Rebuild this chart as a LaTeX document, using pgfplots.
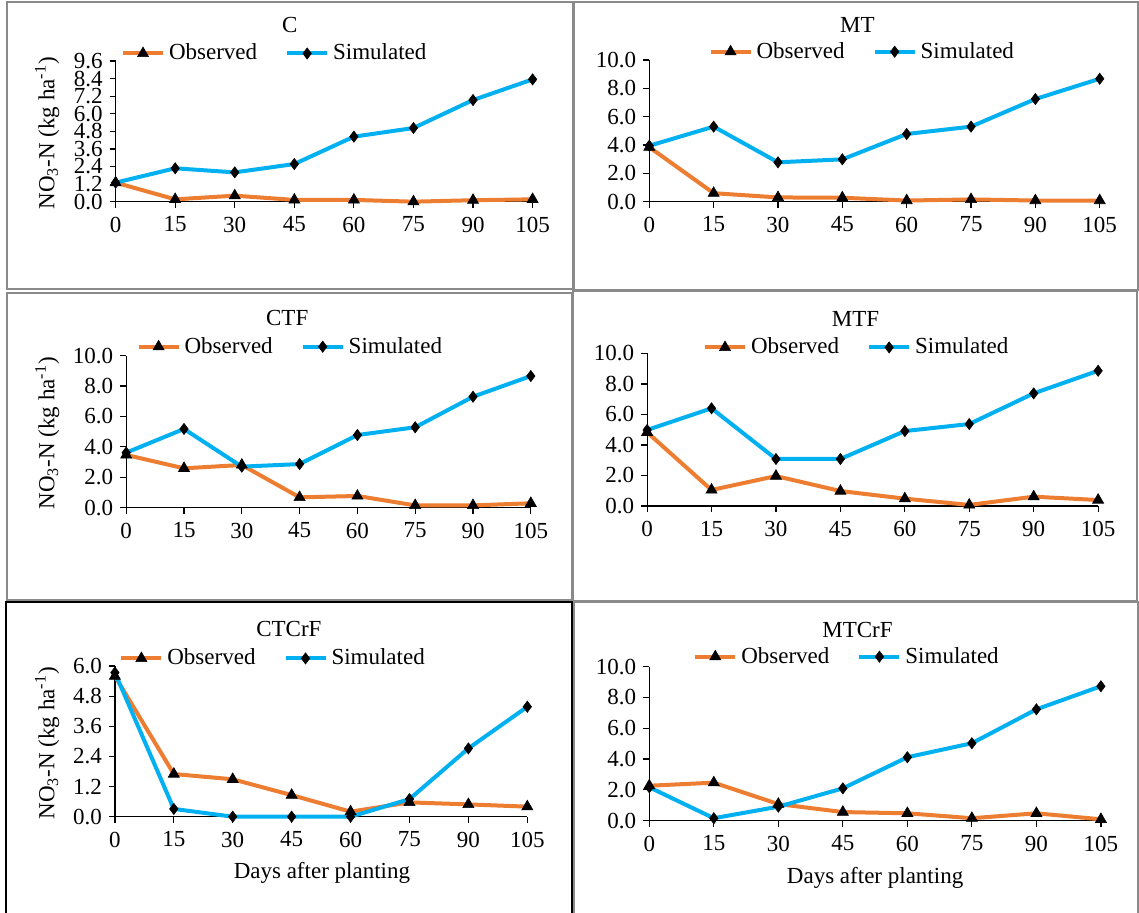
\documentclass[border=0pt]{standalone}
\usepackage{pgfplots}
\pgfplotsset{compat=1.18}
\usepackage{fontspec}
\setmainfont{Liberation Serif}

\definecolor{obs}{HTML}{ED7D31}
\definecolor{sim}{HTML}{00B0F0}
\definecolor{panelframe}{HTML}{8A8A8A}

\newcommand{\fs}{\fontsize{11.5pt}{13pt}\selectfont}

\pgfplotsset{
  panel/.style={
    scale only axis, anchor=south west,
    axis x line*=bottom, axis y line*=left,
    axis line style={-, black, line width=0.6pt},
    xmin=0, xmax=105, ymin=0,
    xtick={0,15,30,45,60,75,90,105},
    tick align=outside, major tick length=3pt,
    tick style={black, line width=0.6pt},
    /pgf/number format/assume math mode=true,
    tick label style={font=\fs, black},
    xticklabel style={yshift=-1pt},
    yticklabel style={/pgf/number format/.cd, fixed, fixed zerofill, precision=1},
    label style={font=\fs},
    title style={font=\fs, anchor=center},
    legend columns=2,
    legend style={draw=none, fill=none, font=\fs, anchor=center,
      inner sep=0pt,
      /tikz/every even column/.append style={column sep=12pt}},
    legend image code/.code={
      \draw[mark repeat=2, mark phase=2, #1]
        plot coordinates {(0pt,0pt) (10pt,0pt) (20pt,0pt)};},
    clip=false,
  },
  obsline/.style={color=obs, line width=2pt, mark=triangle*,
    mark size=3.2pt, mark options={solid, fill=black, draw=black, line width=0.3pt}},
  simline/.style={color=sim, line width=2pt, mark=diamond*,
    mark size=2.8pt, mark options={solid, fill=black, draw=black, line width=0.3pt}},
}

\begin{document}
\begin{tikzpicture}
\useasboundingbox (0,0) rectangle (569.5pt,456.5pt);

% panel frames
\begin{scope}[panelframe, line width=0.8pt]
  \draw (3.5pt,312pt) rectangle (286.5pt,455.5pt);
  \draw (287pt,311.5pt) rectangle (569pt,455.5pt);
  \draw (3.5pt,156.5pt) rectangle (286pt,310pt);
  \draw (286.5pt,156pt) rectangle (568.5pt,311pt);
  \draw (287pt,-1pt) rectangle (569pt,155.5pt);
\end{scope}
\draw[black, line width=0.7pt] (3pt,-1pt) -- (3pt,155.5pt) -- (286pt,155.5pt) -- (286pt,-1pt);

% C
\begin{axis}[panel, at={(57.8pt,355.65pt)}, width=208.5pt, height=70.3pt,
  ymax=9.6, ytick={0,1.2,2.4,3.6,4.8,6.0,7.2,8.4,9.6},
  title={C}, title style={at={(0.418,1.171)}},
  legend style={at={(0.384,1.054)}},
  ylabel={NO\textsubscript{3}-N (kg ha\textsuperscript{-1})},
  ylabel style={at={(-0.164,0.486)}, anchor=center}]
\addplot[obsline] coordinates {(0,1.3) (15,0.16) (30,0.41) (45,0.12) (60,0.12) (75,0.0) (90,0.1) (105,0.16)};
\addplot[simline] coordinates {(0,1.3) (15,2.28) (30,2.0) (45,2.57) (60,4.44) (75,5.03) (90,6.94) (105,8.35)};
\legend{Observed,Simulated}
\end{axis}

% MT
\begin{axis}[panel, at={(324.65pt,355.65pt)}, width=225.2pt, height=70.8pt,
  ymax=10, ytick={0,2,4,6,8,10},
  title={MT}, title style={at={(0.462,1.162)}},
  legend style={at={(0.475,1.059)}}]
\addplot[obsline] coordinates {(0,3.85) (15,0.6) (30,0.3) (45,0.28) (60,0.08) (75,0.16) (90,0.08) (105,0.08)};
\addplot[simline] coordinates {(0,3.95) (15,5.3) (30,2.78) (45,2.99) (60,4.78) (75,5.3) (90,7.25) (105,8.68)};
\legend{Observed,Simulated}
\end{axis}

% CTF
\begin{axis}[panel, at={(63.1pt,202.65pt)}, width=202.3pt, height=76pt,
  ymax=10, ytick={0,2,4,6,8,10},
  title={CTF}, title style={at={(0.398,1.169)}},
  legend style={at={(0.408,1.059)}},
  ylabel={NO\textsubscript{3}-N (kg ha\textsuperscript{-1})},
  ylabel style={at={(-0.195,0.489)}, anchor=center}]
\addplot[obsline] coordinates {(0,3.47) (15,2.59) (30,2.81) (45,0.68) (60,0.77) (75,0.15) (90,0.15) (105,0.29)};
\addplot[simline] coordinates {(0,3.62) (15,5.18) (30,2.7) (45,2.87) (60,4.78) (75,5.29) (90,7.3) (105,8.66)};
\legend{Observed,Simulated}
\end{axis}

% MTF
\begin{axis}[panel, at={(323.55pt,203.5pt)}, width=225.5pt, height=76.3pt,
  ymax=10, ytick={0,2,4,6,8,10},
  title={MTF}, title style={at={(0.462,1.144)}},
  legend style={at={(0.467,1.039)}}]
\addplot[obsline] coordinates {(0,4.83) (15,1.05) (30,1.96) (45,0.98) (60,0.48) (75,0.07) (90,0.61) (105,0.39)};
\addplot[simline] coordinates {(0,4.98) (15,6.4) (30,3.08) (45,3.08) (60,4.91) (75,5.37) (90,7.38) (105,8.86)};
\legend{Observed,Simulated}
\end{axis}

% CTCrF
\begin{axis}[panel, at={(57.45pt,48.15pt)}, width=206.2pt, height=75.3pt,
  ymax=6, ytick={0,1.2,2.4,3.6,4.8,6.0},
  title={CTCrF}, title style={at={(0.422,1.165)}},
  legend style={at={(0.386,1.051)}},
  xlabel={Days after planting},
  xlabel style={at={(0.502,-0.376)}, anchor=center},
  ylabel={NO\textsubscript{3}-N (kg ha\textsuperscript{-1})},
  ylabel style={at={(-0.164,0.487)}, anchor=center}]
\addplot[obsline] coordinates {(0,5.6) (15,1.7) (30,1.49) (45,0.86) (60,0.2) (75,0.57) (90,0.49) (105,0.4)};
\addplot[simline] coordinates {(0,5.74) (15,0.31) (30,0.0) (45,0.0) (60,0.0) (75,0.7) (90,2.72) (105,4.38)};
\legend{Observed,Simulated}
\end{axis}

% MTCrF
\begin{axis}[panel, at={(324.65pt,46.15pt)}, width=225.8pt, height=77pt,
  ymax=10, ytick={0,2,4,6,8,10},
  title={MTCrF}, title style={at={(0.461,1.159)}},
  legend style={at={(0.44,1.065)}},
  xlabel={Days after planting},
  xlabel style={at={(0.5,-0.374)}, anchor=center}]
\addplot[obsline] coordinates {(0,2.27) (15,2.47) (30,1.08) (45,0.56) (60,0.48) (75,0.16) (90,0.48) (105,0.09)};
\addplot[simline] coordinates {(0,2.17) (15,0.16) (30,0.91) (45,2.1) (60,4.12) (75,5.03) (90,7.23) (105,8.73)};
\legend{Observed,Simulated}
\end{axis}
\end{tikzpicture}
\end{document}
